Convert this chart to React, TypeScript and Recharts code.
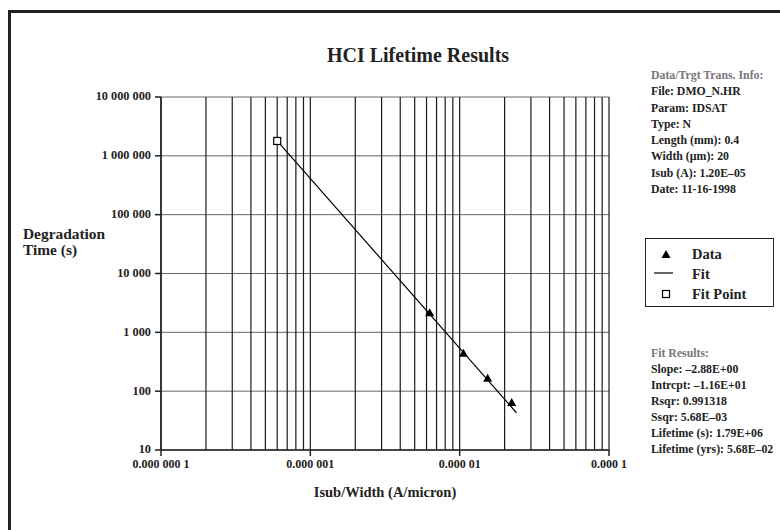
import { ScatterChart, Scatter, XAxis, YAxis, CartesianGrid, ReferenceLine } from 'recharts';

const FONT = '"Liberation Serif", "Times New Roman", serif';
const INK = '#222';

const xTicks = [1e-7, 1e-6, 1e-5, 1e-4];
const xTickLabels = ['0.000 000 1', '0.000 001', '0.000 01', '0.000 1'];
const yTicks = [10, 100, 1000, 10000, 100000, 1000000, 10000000];
const yTickLabels = ['10', '100', '1 000', '10 000', '100 000', '1 000 000', '10 000 000'];

// measured points (Isub/Width, degradation time)
const dataX = [6.3e-6, 1.06e-5, 1.54e-5, 2.23e-5];
const dataY = [2150, 440, 166, 64];

const fitPointX = [6.0e-7];
const fitPointY = [1.79e6];

const fitX = [6.0e-7, 2.4e-5];
const fitY = [1.79e6, 43];

const infoLines = [
  'File: DMO_N.HR',
  'Param: IDSAT',
  'Type: N',
  'Length (mm): 0.4',
  'Width (\u00b5m): 20',
  'Isub (A): 1.20E\u201305',
  'Date: 11-16-1998',
];

const fitLines = [
  'Slope: \u20132.88E+00',
  'Intrcpt: \u20131.16E+01',
  'Rsqr: 0.991318',
  'Ssqr: 5.68E\u201303',
  'Lifetime (s): 1.79E+06',
  'Lifetime (yrs): 5.68E\u201302',
];

const toPoints = (xs: number[], ys: number[]) => xs.map((x, i) => ({ x, y: ys[i] }));

// vertical grid lines at every 1..9 step of each decade
const xGrid: number[] = [];
xTicks.slice(0, -1).forEach((d) => {
  for (let m = 1; m <= 9; m++) xGrid.push(d * m);
});
xGrid.push(xTicks[xTicks.length - 1]);

const Triangle = (props: any) => {
  const { cx, cy } = props;
  return <polygon points={`${cx},${cy - 4.5} ${cx + 4.5},${cy + 3.5} ${cx - 4.5},${cy + 3.5}`} fill="#000" />;
};

const Square = (props: any) => {
  const { cx, cy } = props;
  return <rect x={cx - 3.5} y={cy - 3.5} width={7} height={7} fill="#fff" stroke="#000" strokeWidth={1.2} />;
};

const NoShape = () => <g />;

const textBase = { position: 'absolute' as const, fontFamily: FONT, fontWeight: 'bold' as const, color: INK, whiteSpace: 'nowrap' as const };

export default function App() {
  return (
    <div style={{ position: 'relative', width: 780, height: 530, background: '#fff', overflow: 'hidden' }}>
      <style>{'body { margin: 0; }'}</style>
      <div style={{ position: 'absolute', left: 8, top: 10, width: 800, height: 600, borderTop: `3px solid ${INK}`, borderLeft: `3px solid ${INK}` }} />
      <ScatterChart width={780} height={530} margin={{ top: 97, right: 171, bottom: 50, left: 0 }}>
        <CartesianGrid vertical={false} stroke="#666" strokeWidth={1} />
        {xGrid.map((v) => (
          <ReferenceLine key={`grid-${v}`} x={v} stroke="#1a1a1a" strokeWidth={1.2} />
        ))}
        <XAxis
          type="number"
          dataKey="x"
          scale="log"
          domain={[1e-7, 1e-4]}
          ticks={xTicks}
          allowDataOverflow
          height={30}
          tickSize={6}
          tickMargin={3}
          tickFormatter={(v: number) => xTickLabels[xTicks.indexOf(v)] ?? ''}
          stroke={INK}
          strokeWidth={1.5}
          tick={{ fontSize: 12, fontWeight: 'bold', fill: INK, fontFamily: FONT }}
        />
        <YAxis
          type="number"
          dataKey="y"
          scale="log"
          domain={[10, 1e7]}
          ticks={yTicks}
          allowDataOverflow
          width={161}
          tickSize={6}
          tickMargin={4}
          tickFormatter={(v: number) => yTickLabels[yTicks.indexOf(v)] ?? ''}
          stroke={INK}
          strokeWidth={1.5}
          tick={{ fontSize: 12.3, fontWeight: 'bold', fill: INK, fontFamily: FONT, dy: -1 }}
        />
        <Scatter name="Fit" data={toPoints(fitX, fitY)} line={{ stroke: '#000', strokeWidth: 1.2 }} shape={NoShape} isAnimationActive={false} />
        <Scatter name="Data" data={toPoints(dataX, dataY)} shape={Triangle} isAnimationActive={false} />
        <Scatter name="Fit Point" data={toPoints(fitPointX, fitPointY)} shape={Square} isAnimationActive={false} />
      </ScatterChart>

      <div style={{ ...textBase, left: 418, top: 43, transform: 'translateX(-50%)', fontSize: 20, lineHeight: '25px' }}>
        HCI Lifetime Results
      </div>

      <div style={{ ...textBase, left: 23, top: 226, fontSize: 15.4, lineHeight: '15.5px' }}>
        Degradation
        <br />
        Time (s)
      </div>

      <div style={{ ...textBase, left: 385, top: 483, transform: 'translateX(-50%)', fontSize: 14.5, lineHeight: '18px' }}>
        Isub/Width (A/micron)
      </div>

      <div style={{ ...textBase, left: 651, top: 67, fontSize: 11.8, lineHeight: '16.3px' }}>
        <div style={{ color: '#777' }}>Data/Trgt Trans. Info:</div>
        {infoLines.map((line) => (
          <div key={line}>{line}</div>
        ))}
      </div>

      <div style={{ position: 'absolute', left: 645, top: 238, width: 127, height: 67, border: `1.5px solid ${INK}` }}>
        <svg width={40} height={67} style={{ position: 'absolute', left: 0, top: 0 }}>
          <polygon points="20,11 24.5,19 15.5,19" fill="#000" />
          <line x1={8} x2={27} y1={34} y2={34} stroke="#000" strokeWidth={1.2} />
          <rect x={16.5} y={51.5} width={7} height={7} fill="#fff" stroke="#000" strokeWidth={1.2} />
        </svg>
        <div style={{ ...textBase, left: 46, top: 5, fontSize: 14.5, lineHeight: '20px' }}>
          <div>Data</div>
          <div>Fit</div>
          <div>Fit Point</div>
        </div>
      </div>

      <div style={{ ...textBase, left: 651, top: 345, fontSize: 11.8, lineHeight: '16px' }}>
        <div style={{ color: '#777' }}>Fit Results:</div>
        {fitLines.map((line) => (
          <div key={line}>{line}</div>
        ))}
      </div>
    </div>
  );
}
